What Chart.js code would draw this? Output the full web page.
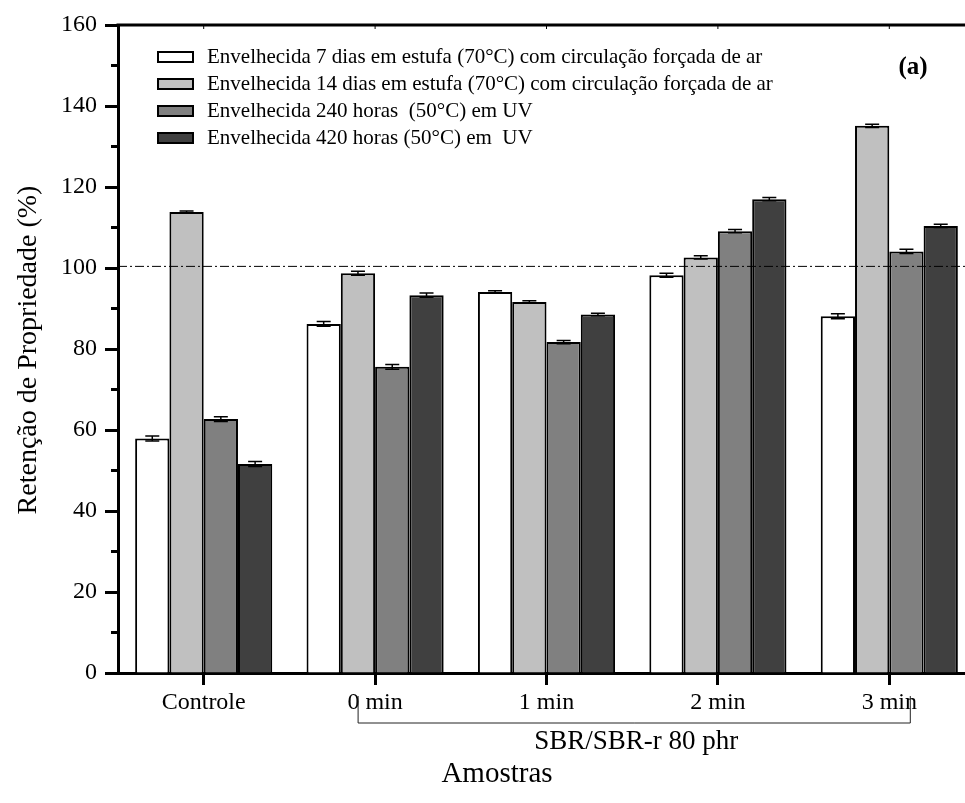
<!DOCTYPE html>
<html>
<head>
<meta charset="utf-8">
<script src="https://cdn.jsdelivr.net/npm/chart.js@4.4.1/dist/chart.umd.min.js"></script>
<style>
  body { margin: 0; overflow: hidden; background: #fff; }
  #wrap { width: 965px; height: 803px; overflow: hidden; }
</style>
</head>
<body>
<div id="wrap"><canvas id="chart" width="990" height="803"></canvas></div>
<script>
// categories and series
const categories = ['Controle', '0 min', '1 min', '2 min', '3 min'];
const seriesLabels = [
  'Envelhecida 7 dias em estufa (70°C) com circulação forçada de ar',
  'Envelhecida 14 dias em estufa (70°C) com circulação forçada de ar',
  'Envelhecida 240 horas  (50°C) em UV',
  'Envelhecida 420 horas (50°C) em  UV'
];
const aged7d = [57.9, 86.2, 94.1, 98.2, 88.1];
const aged14d = [113.8, 98.7, 91.6, 102.6, 135.1];
const aged240h = [62.7, 75.6, 81.7, 109.1, 104.1];
const aged420h = [51.6, 93.3, 88.5, 117.0, 110.4];
const err7d = [0.6, 0.6, 0.3, 0.5, 0.6];
const err14d = [0.3, 0.5, 0.3, 0.4, 0.4];
const err240h = [0.6, 0.6, 0.4, 0.4, 0.5];
const err420h = [0.6, 0.5, 0.3, 0.4, 0.4];
const refLine = 100.4;
const yTicks = [0, 20, 40, 60, 80, 100, 120, 140, 160];

const fillColors = ['#ffffff', '#c0c0c0', '#808080', '#404040'];
const serif = "'Liberation Serif', 'Times New Roman', serif";

const datasets = [aged7d, aged14d, aged240h, aged420h].map((vals, i) => ({
  label: seriesLabels[i],
  data: vals,
  errors: [err7d, err14d, err240h, err420h][i],
  backgroundColor: fillColors[i],
  borderColor: '#000',
  borderWidth: 2,
  barPercentage: 1.0,
  categoryPercentage: 0.8
}));

// error bars, reference line, frame, legend and labels
const extras = {
  id: 'extras',
  afterDatasetsDraw(chart) {
    const ctx = chart.ctx;
    const y = chart.scales.y;
    const area = chart.chartArea;
    ctx.save();
    // error bars
    ctx.strokeStyle = '#000';
    ctx.lineWidth = 1.5;
    chart.data.datasets.forEach((ds, di) => {
      chart.getDatasetMeta(di).data.forEach((bar, i) => {
        const v = ds.data[i], e = ds.errors[i];
        const yt = y.getPixelForValue(v + e);
        const yb = y.getPixelForValue(v - e);
        ctx.beginPath();
        ctx.moveTo(bar.x, yt); ctx.lineTo(bar.x, yb);
        ctx.moveTo(bar.x - 7, yt); ctx.lineTo(bar.x + 7, yt);
        ctx.moveTo(bar.x - 7, yb); ctx.lineTo(bar.x + 7, yb);
        ctx.stroke();
      });
    });
    // dash-dot line
    const yr = y.getPixelForValue(refLine);
    ctx.lineWidth = 1;
    ctx.setLineDash([9, 3, 2, 3]);
    ctx.beginPath();
    ctx.moveTo(area.left, yr); ctx.lineTo(area.right, yr);
    ctx.stroke();
    ctx.setLineDash([]);
    ctx.restore();
  },
  afterDraw(chart) {
    const ctx = chart.ctx;
    const x = chart.scales.x;
    const y = chart.scales.y;
    const area = chart.chartArea;
    ctx.save();
    ctx.strokeStyle = '#000';
    // top frame with small inward ticks
    ctx.lineWidth = 3;
    ctx.beginPath();
    ctx.moveTo(area.left - 1.5, area.top); ctx.lineTo(area.right, area.top);
    ctx.stroke();
    ctx.lineWidth = 1;
    categories.forEach((c, i) => {
      const px = x.getPixelForValue(i);
      ctx.beginPath();
      ctx.moveTo(px, area.top); ctx.lineTo(px, area.top + 4);
      ctx.stroke();
    });
    // minor y ticks
    ctx.lineWidth = 3;
    for (let v = 10; v < 160; v += 20) {
      const py = y.getPixelForValue(v);
      ctx.beginPath();
      ctx.moveTo(area.left - 7, py); ctx.lineTo(area.left, py);
      ctx.stroke();
    }
    // legend
    ctx.font = '21px ' + serif;
    ctx.textBaseline = 'middle';
    chart.data.datasets.forEach((ds, i) => {
      const cy = 57 + i * 27;
      ctx.fillStyle = ds.backgroundColor;
      ctx.fillRect(158, cy - 5, 35, 10);
      ctx.lineWidth = 2;
      ctx.strokeRect(158, cy - 5, 35, 10);
      ctx.fillStyle = '#000';
      ctx.textAlign = 'left';
      ctx.fillText(ds.label, 207, cy);
    });
    // panel tag
    ctx.font = 'bold 25px ' + serif;
    ctx.textAlign = 'center';
    ctx.fillText('(a)', 913, 68);
    // group bracket
    const x0 = x.getPixelForValue(1) - 17;
    const x3 = x.getPixelForValue(4) + 21;
    ctx.lineWidth = 1;
    ctx.strokeStyle = '#222';
    ctx.beginPath();
    ctx.moveTo(x0, 696); ctx.lineTo(x0, 723); ctx.lineTo(x3, 723); ctx.lineTo(x3, 696);
    ctx.stroke();
    ctx.font = '27px ' + serif;
    ctx.fillText('SBR/SBR-r 80 phr', (x0 + x3) / 2 + 2, 742);
    // axis titles
    ctx.font = '29px ' + serif;
    ctx.fillText('Amostras', 497, 774);
    ctx.translate(29, 350);
    ctx.rotate(-Math.PI / 2);
    ctx.font = '28px ' + serif;
    ctx.fillText('Retenção de Propriedade (%)', 0, 0);
    ctx.restore();
  }
};

new Chart(document.getElementById('chart'), {
  type: 'bar',
  data: { labels: categories, datasets: datasets },
  options: {
    responsive: false,
    animation: false,
    layout: { padding: { top: 25, right: 15, left: 0, bottom: 0 } },
    plugins: { legend: { display: false }, tooltip: { enabled: false } },
    scales: {
      x: {
        offset: true,
        grid: { offset: false, drawOnChartArea: false, tickLength: 12, tickWidth: 3, tickColor: '#000' },
        border: { color: '#000', width: 3 },
        ticks: { color: '#000', font: { family: serif, size: 24 }, padding: 3 },
        afterFit(scale) { scale.height = 130; }
      },
      y: {
        min: 0, max: 160,
        afterBuildTicks(scale) { scale.ticks = yTicks.map(v => ({ value: v })); },
        grid: { drawOnChartArea: false, tickLength: 13, tickWidth: 3, tickColor: '#000' },
        border: { color: '#000', width: 3 },
        ticks: { color: '#000', font: { family: serif, size: 24 }, padding: 8 },
        afterFit(scale) { scale.width = 118; }
      }
    }
  },
  plugins: [extras]
});
</script>
</body>
</html>
